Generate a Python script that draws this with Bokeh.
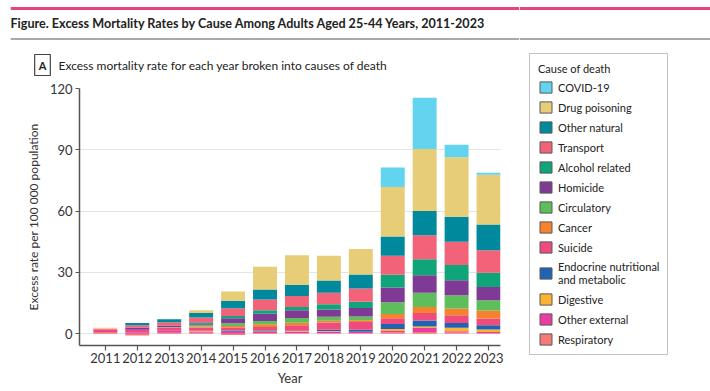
from bokeh.plotting import figure
from bokeh.models import ColumnDataSource, Legend, LegendItem, Label, Span, FixedTicker, Range1d
from bokeh.layouts import column, row
from bokeh.embed import file_html
from bokeh.resources import INLINE

# ---------------- data ----------------
years = [2011, 2012, 2013, 2014, 2015, 2016, 2017, 2018, 2019, 2020, 2021, 2022, 2023]
year_labels = [str(y) for y in years]
y_ticks = [0, 30, 60, 90, 120]

# stacking order: bottom -> top
causes = ["Respiratory", "Other external", "Digestive", "Endocrine nutritional\nand metabolic",
          "Suicide", "Cancer", "Circulatory", "Homicide", "Alcohol related", "Transport",
          "Other natural", "Drug poisoning", "COVID-19"]

respiratory    = [0.8, -0.8, 0.5, 0.5, -0.6, 0.4, 0.4, 0.3, 0.3, 0.6, 0.8, 0.6, 0.4]
other_external = [0.5, 0.7, 0.8, 0.6, 0.8, 0.4, 0.7, 0.8, 0.5, 0.7, 2.0, 0.6, 0.5]
digestive      = [0.0, 0.0, 0.0, 0.2, 0.2, 0.3, 0.2, 0.2, 0.2, 1.0, 0.8, 1.7, 1.2]
endocrine      = [0.0, 0.0, 0.2, 0.2, 0.5, 0.5, 0.3, 0.8, 1.0, 2.5, 2.9, 2.3, 2.0]
suicide        = [0.6, 1.3, 1.6, 1.5, 1.5, 1.7, 2.5, 3.4, 3.7, 2.8, 3.6, 3.8, 3.3]
cancer         = [0.0, 0.0, 0.0, 0.6, 0.8, 1.3, 1.3, 0.8, 0.9, 2.1, 3.0, 3.3, 4.0]
circulatory    = [0.0, 0.0, 0.2, 0.8, 1.3, 1.6, 2.3, 2.0, 1.9, 5.7, 7.0, 6.5, 5.0]
homicide       = [0.0, 1.0, 0.7, 0.7, 2.5, 3.6, 3.8, 3.6, 4.1, 7.2, 8.5, 7.4, 6.5]
alcohol        = [0.0, 0.0, 0.0, 0.5, 1.1, 1.7, 1.6, 2.5, 3.0, 6.3, 7.8, 7.4, 6.9]
transport      = [0.6, 1.2, 1.6, 2.3, 3.8, 5.2, 5.4, 5.7, 6.5, 9.3, 11.8, 11.4, 11.1]
other_natural  = [0.0, 1.0, 1.5, 2.3, 3.6, 4.9, 5.3, 5.9, 6.9, 9.4, 11.9, 12.3, 12.5]
drug           = [0.4, 0.0, 0.0, 1.3, 4.6, 11.2, 14.6, 12.2, 12.5, 24.2, 30.3, 29.0, 24.4]
covid          = [0.0, 0.0, 0.0, 0.0, 0.0, 0.0, 0.0, 0.0, 0.0, 9.5, 25.1, 6.2, 1.0]

series = [respiratory, other_external, digestive, endocrine, suicide, cancer, circulatory,
          homicide, alcohol, transport, other_natural, drug, covid]
colors = ["#F47A78", "#EA3CA0", "#FBB431", "#1F63B2", "#EF4B7C", "#F5822C", "#5EBE5B",
          "#7F3A96", "#10A479", "#F2637A", "#00889C", "#E8CD78", "#62D4F0"]

FONT = "Lato"
TXT = "#222222"
PINK = "#E8457A"
RULE = "#8C8C8C"

TOTAL_W, TOTAL_H = 710, 391
LEFT_W = 519          # header + chart column
HH = 76               # header height


def no_align(f):
    if "frame_align" in f.properties():
        f.frame_align = False


# ---------------- header (title + panel heading) ----------------
h = figure(width=LEFT_W, height=HH, x_range=Range1d(0, LEFT_W - 10), y_range=Range1d(0, HH),
           toolbar_location=None, output_backend="svg", x_axis_type=None, y_axis_type=None,
           min_border=0, min_border_left=10, outline_line_color=None)
h.grid.visible = False
no_align(h)
h.add_layout(Span(location=HH - 8, dimension="width", line_color=PINK, line_width=3))
h.add_layout(Span(location=HH - 38.5, dimension="width", line_color=RULE, line_width=1.5))
h.add_layout(Label(x=0, y=HH - 23, text="Figure. Excess Mortality Rates by Cause Among Adults Aged 25-44 Years, 2011-2023",
                   text_baseline="middle", text_font=FONT, text_font_size="12.6px",
                   text_font_style="bold", text_color=TXT))
h.add_layout(Label(x=32, y=HH - 64.5, text="A", text_align="center", text_baseline="middle",
                   text_font=FONT, text_font_size="11px", text_font_style="bold", text_color=TXT,
                   border_line_color="#444444", border_line_width=1.2, background_fill_color="white",
                   padding=4))
h.add_layout(Label(x=48, y=HH - 64.5, text="Excess mortality rate for each year broken into causes of death",
                   text_baseline="middle", text_font=FONT, text_font_size="12px", text_color=TXT))

# ---------------- main chart ----------------
p = figure(width=LEFT_W, height=TOTAL_H - HH, x_range=Range1d(2010.19, 2023.375), y_range=Range1d(-5.75, 120),
           toolbar_location=None, output_backend="svg",
           min_border_left=79, min_border_right=19, min_border_top=12, min_border_bottom=46,
           outline_line_color=None)
no_align(p)

sources = []
pos_base = [0.0] * len(years)
neg_base = [0.0] * len(years)
for name, vals, col in zip(causes, series, colors):
    bottoms, tops = [], []
    for i, v in enumerate(vals):
        if v >= 0:
            bottoms.append(pos_base[i]); tops.append(pos_base[i] + v); pos_base[i] += v
        else:
            tops.append(neg_base[i]); bottoms.append(neg_base[i] + v); neg_base[i] += v
    src = ColumnDataSource(dict(x=years, bottom=bottoms, top=tops))
    sources.append(src)
    p.vbar(x="x", bottom="bottom", top="top", width=0.75, source=src,
           fill_color=col, line_color=None)

p.xgrid.visible = False
p.ygrid.ticker = FixedTicker(ticks=y_ticks)
p.ygrid.grid_line_color = "#E4E4E4"
p.ygrid.grid_line_width = 1

p.xaxis.ticker = FixedTicker(ticks=years)
p.xaxis.major_label_overrides = {y: s for y, s in zip(years, year_labels)}
p.yaxis.ticker = FixedTicker(ticks=y_ticks)
for ax in (p.xaxis[0], p.yaxis[0]):
    ax.axis_line_color = "#555555"
    ax.axis_line_width = 1.5
    ax.major_tick_line_color = "#555555"
    ax.major_tick_line_width = 1.2
    ax.minor_tick_line_color = None
    ax.major_tick_in = 0
    ax.major_label_text_font = FONT
    ax.major_label_text_font_size = "13px"
    ax.major_label_text_color = "#333333"
    ax.axis_label_text_font = FONT
    ax.axis_label_text_font_style = "normal"
    ax.axis_label_text_color = "#333333"
p.xaxis.major_tick_out = 5
p.yaxis.major_tick_out = 4
p.xaxis.major_label_standoff = 2
p.yaxis.major_label_standoff = 3
p.xaxis.axis_label = "Year"
p.xaxis.axis_label_text_font_size = "13px"
p.xaxis.axis_label_standoff = 4
p.yaxis.axis_label = "Excess rate per 100 000 population"
p.yaxis.axis_label_text_font_size = "12px"
p.yaxis.axis_label_standoff = 6

# ---------------- legend panel ----------------
LW, LH = TOTAL_W - LEFT_W, TOTAL_H
lg = figure(width=LW, height=LH, x_range=Range1d(0, LW), y_range=Range1d(0, LH),
            toolbar_location=None, output_backend="svg", x_axis_type=None, y_axis_type=None,
            min_border=0, outline_line_color=None)
lg.grid.visible = False
no_align(lg)
lg.add_layout(Span(location=LH - 8, dimension="width", line_color=PINK, line_width=3))
lg.add_layout(Span(location=LH - 38.5, dimension="width", line_color=RULE, line_width=1.5))

items = []
for name, col, src in reversed(list(zip(causes, colors, sources))):
    # swatch renderer (same data, lies outside this panel's visible range)
    sw = lg.vbar(x="x", bottom="bottom", top="top", width=0.75, source=src,
                 fill_color=col, line_color="#5a5a5a", line_width=1)
    items.append(LegendItem(label=name, renderers=[sw]))
legend = Legend(items=items, location=(10, 36), title="Cause of death",
                title_text_font=FONT, title_text_font_size="11px", title_text_font_style="normal",
                title_text_color=TXT, title_standoff=5,
                label_text_font=FONT, label_text_font_size="11px", label_text_color=TXT,
                glyph_width=15, glyph_height=14, label_height=14, label_standoff=5, spacing=6,
                padding=8, margin=0, border_line_color="#888888", border_line_width=1.5,
                background_fill_color="white", background_fill_alpha=1.0)
lg.add_layout(legend, "center")

layout = row(column(h, p, spacing=0), lg, spacing=0)
open("out.html", "w").write(file_html(layout, INLINE))
